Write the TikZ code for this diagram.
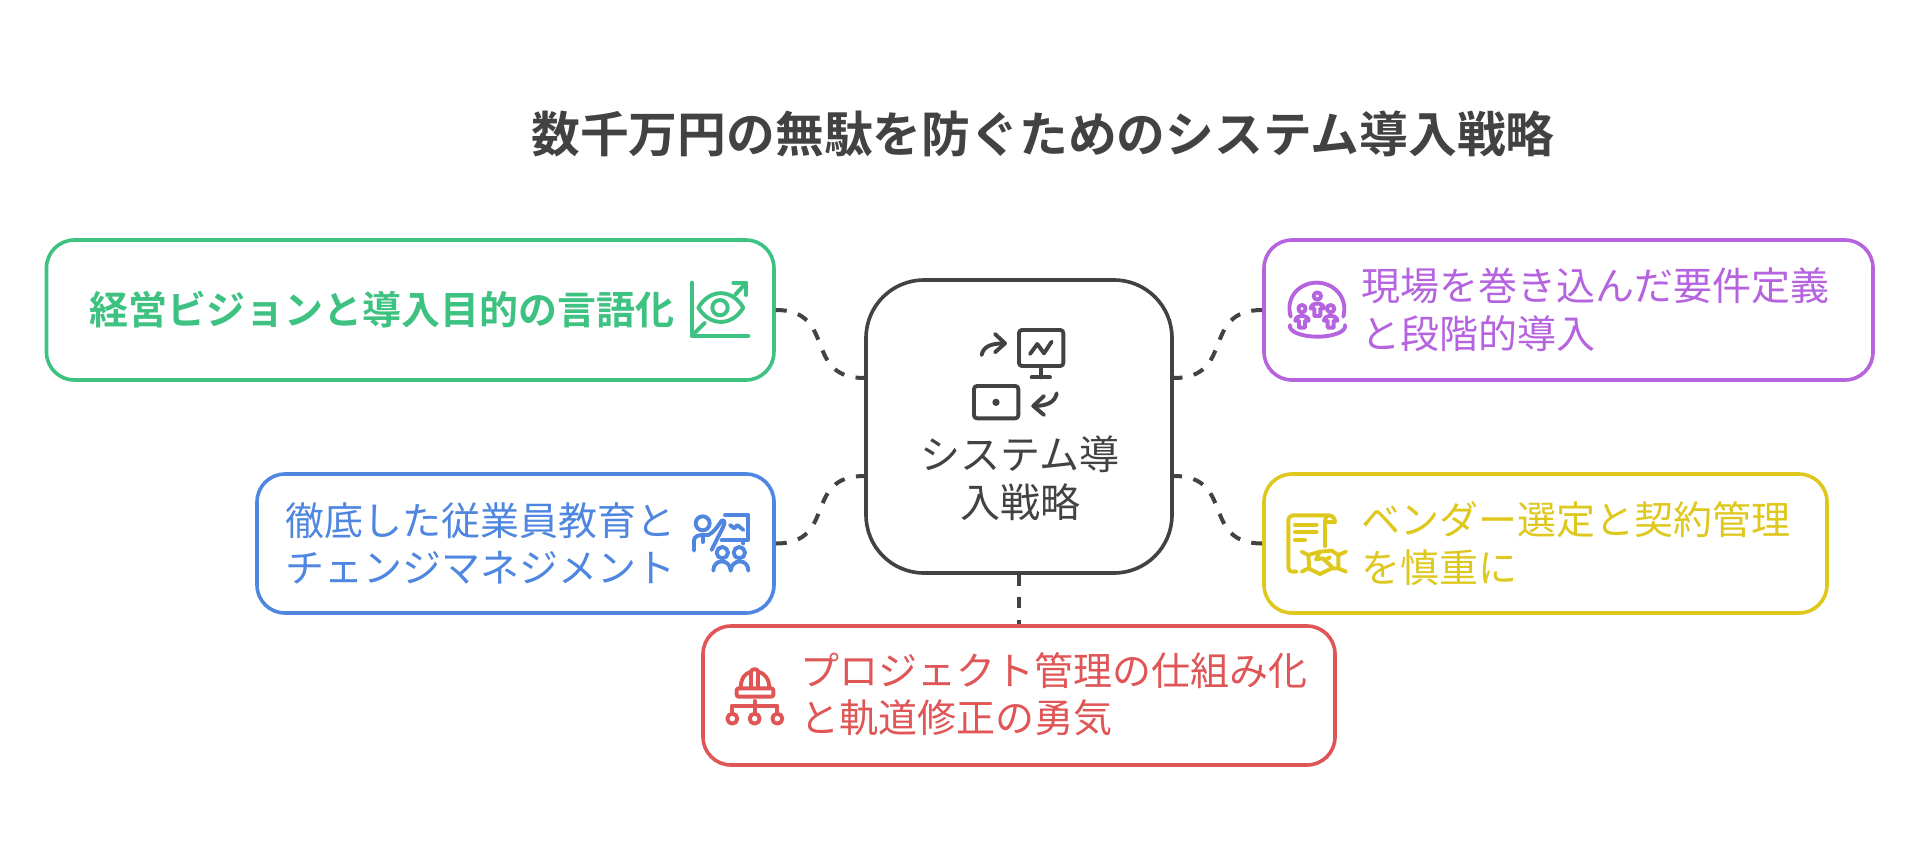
\documentclass[tikz,border=0pt]{standalone}
\usepackage{fontspec}
\setmainfont{Noto Sans CJK JP}
\newfontfamily\jpbold{Noto Sans CJK JP Bold}
\usetikzlibrary{calc}
\definecolor{cdark}{HTML}{424242}
\definecolor{cgreen}{HTML}{3DC281}
\definecolor{cblue}{HTML}{4E86E0}
\definecolor{cred}{HTML}{E05555}
\definecolor{cyellow}{HTML}{DFC81E}
\definecolor{cpurple}{HTML}{B563DF}
\tikzset{
  card/.style={draw=#1,line width=3.6pt,rounded corners=28pt,fill=white,inner sep=0pt},
  lbl/.style={anchor=west,inner sep=0pt,text=#1,font=\fontsize{39}{47.5}\selectfont,align=left},
  link/.style={draw=cdark,line width=4pt,dash pattern=on 11pt off 11.6pt},
  ico/.style={line width=3.9pt,line cap=round,line join=round,draw=#1},
  unit/.style={x=0.3333pt,y=-0.3333pt}
}
\begin{document}
\begin{tikzpicture}[x=1pt,y=-1pt]
\useasboundingbox (0,0) rectangle (1920,860);
\fill[white] (0,0) rectangle (1920,860);
\node[inner sep=0pt,text=cdark,font=\jpbold\fontsize{48.8}{52}\selectfont] (title) at (1043,134) {数千万円の無駄を防ぐためのシステム導入戦略};
% cards
\node[card=cdark,rounded corners=58pt,minimum width=306pt,minimum height=293pt] (center) at (1019,426.5) {};
\node[card=cgreen,minimum width=727.5pt,minimum height=140pt] (green) at (410.2,310) {};
\node[card=cblue,minimum width=517pt,minimum height=139pt] (blue) at (515.5,543.5) {};
\node[card=cred,minimum width=632pt,minimum height=139pt] (red) at (1019,695.5) {};
\node[card=cyellow,minimum width=563pt,minimum height=139pt] (yellow) at (1545.5,543.5) {};
\node[card=cpurple,minimum width=609pt,minimum height=140pt] (purple) at (1568.5,310) {};
% connector ends
\coordinate (cNW) at ($(center.west)+(0,-48.5)$);
\coordinate (cSW) at ($(center.west)+(0,49.5)$);
\coordinate (cNE) at ($(center.east)+(0,-48.5)$);
\coordinate (cSE) at ($(center.east)+(0,49.5)$);
\draw[link] (green.east) .. controls ($(green.east)+(62,0)$) and ($(cNW)+(-62,0)$) .. (cNW);
\draw[link] (blue.east) .. controls ($(blue.east)+(62,0)$) and ($(cSW)+(-62,0)$) .. (cSW);
\draw[link] (purple.west) .. controls ($(purple.west)+(-62,0)$) and ($(cNE)+(62,0)$) .. (cNE);
\draw[link] (yellow.west) .. controls ($(yellow.west)+(-62,0)$) and ($(cSE)+(62,0)$) .. (cSE);
\draw[link] (center.south) -- (red.north);
% labels
\node[lbl=cgreen,font=\jpbold\fontsize{39}{47.5}\selectfont] (tgreen) at (89.5,310) {経営ビジョンと導入目的の言語化};
\node[lbl=cblue] (tblue) at (285,543.5) {徹底した従業員教育と\\チェンジマネジメント};
\node[lbl=cred] (tred) at (800,694) {プロジェクト管理の仕組み化\\と軌道修正の勇気};
\node[lbl=cyellow] (tyellow) at (1361,543.5) {ベンダー選定と契約管理\\を慎重に};
\node[lbl=cpurple] (tpurple) at (1361,309.5) {現場を巻き込んだ要件定義\\と段階的導入};
\node[lbl=cdark,anchor=center,align=center,font=\fontsize{40}{47.5}\selectfont] (tcenter) at (1020,478.5) {システム導\\入戦略};
% centre icon
\begin{scope}[shift={(950,320)},unit]
\draw[ico=cdark,rounded corners=3pt] (207,30) rectangle (340,138);
\draw[ico=cdark] (272,138) -- (272,172) (245,172) -- (300,172);
\draw[ico=cdark] (240,102) -- (262,72) -- (282,100) -- (305,65);
\draw[ico=cdark] (95,105) .. controls (100,78) and (125,70) .. (165,70);
\draw[ico=cdark] (135,42) -- (165,70) -- (135,97);
\draw[ico=cdark,rounded corners=3pt] (72,198) rectangle (205,295);
\fill[cdark] (138,247) circle [radius=11];
\draw[ico=cdark] (320,220) .. controls (315,245) and (295,258) .. (250,258);
\draw[ico=cdark] (282,228) -- (250,258) -- (282,285);
\end{scope}
% green icon
\begin{scope}[shift={(680,260)},unit]
\draw[ico=cgreen] (35,68) -- (35,228) -- (205,228);
\draw[ico=cgreen] (35,228) -- (75,188);
\draw[ico=cgreen] (55,143) .. controls (90,85) and (155,85) .. (190,143) .. controls (155,200) and (90,200) .. (55,143) -- cycle;
\draw[ico=cgreen] (120,143) circle [radius=23];
\draw[ico=cgreen] (165,105) -- (197,70);
\draw[ico=cgreen] (160,68) -- (197,68) -- (197,105);
\end{scope}
% blue icon
\begin{scope}[shift={(680,500)},unit]
\draw[ico=cblue] (68,70) circle [radius=21];
\draw[ico=cblue] (42,152) -- (42,125) .. controls (42,105) and (55,105) .. (85,105) .. controls (105,95) and (115,75) .. (125,62) .. controls (135,58) and (135,70) .. (130,80) -- (95,150);
\draw[ico=cblue] (68,110) -- (68,126);
\draw[ico=cblue] (135,45) -- (205,45) -- (205,120) -- (125,120);
\draw[ico=cblue] (150,75) -- (163,85) -- (172,75) -- (190,90);
\draw[ico=cblue] (190,120) -- (190,130);
\draw[ico=cblue] (127,158) circle [radius=17];
\draw[ico=cblue] (178,158) circle [radius=17];
\draw[ico=cblue] (100,212) .. controls (100,175) and (150,175) .. (152,212) .. controls (155,175) and (205,175) .. (205,212);
\end{scope}
% red icon
\begin{scope}[shift={(720,655)},unit]
\draw[ico=cred,rounded corners=2pt] (50,100) rectangle (160,125);
\draw[ico=cred] (62,100) .. controls (62,70) and (75,55) .. (93,50) .. controls (95,40) and (113,40) .. (115,50) .. controls (133,55) and (148,70) .. (148,100);
\draw[ico=cred] (93,50) -- (93,100) (115,50) -- (115,100);
\draw[ico=cred] (37,175) -- (37,152) -- (172,152) -- (172,175);
\draw[ico=cred] (104,138) -- (104,175);
\draw[ico=cred] (37,191) circle [radius=15];
\draw[ico=cred] (104,191) circle [radius=15];
\draw[ico=cred] (172,191) circle [radius=15];
\end{scope}
% yellow icon
\begin{scope}[shift={(1270,500)},unit]
\draw[ico=cyellow] (80,215) -- (70,215) .. controls (58,215) and (55,208) .. (55,200) -- (55,62) .. controls (55,52) and (62,46) .. (72,46) -- (175,46) .. controls (188,46) and (195,55) .. (195,66) -- (165,66) -- (165,140);
\draw[ico=cyellow] (165,66) .. controls (165,55) and (170,46) .. (175,46);
\draw[ico=cyellow] (75,75) -- (140,75) (75,97) -- (140,97) (75,120) -- (105,120);
\draw[ico=cyellow] (95,155) -- (115,165) -- (150,155) -- (185,152) -- (205,165) -- (228,155);
\draw[ico=cyellow] (95,215) -- (115,205) -- (150,222) -- (185,205) -- (205,205) -- (228,215);
\draw[ico=cyellow] (115,165) -- (118,205) (205,165) -- (205,205);
\draw[ico=cyellow] (150,155) -- (138,178) -- (158,175) -- (185,200);
\draw[ico=cyellow] (168,178) -- (180,172);
\end{scope}
% purple icon
\begin{scope}[shift={(1260,260)},unit]
\draw[ico=cpurple] (92,170) .. controls (75,110) and (120,68) .. (170,68) .. controls (220,68) and (265,110) .. (250,170);
\draw[ico=cpurple] (90,195) .. controls (85,215) and (125,230) .. (172,230) .. controls (220,230) and (260,215) .. (255,195);
\draw[ico=cpurple] (172,108) circle [radius=11];
\draw[ico=cpurple] (126,146) circle [radius=11];
\draw[ico=cpurple] (212,146) circle [radius=11];
\draw[ico=cpurple] (163,168) -- (163,145) -- (152,145) .. controls (152,126) and (192,126) .. (192,145) -- (181,145) -- (181,168) -- cycle;
\draw[ico=cpurple] (117,203) -- (117,182) -- (106,182) .. controls (106,163) and (146,163) .. (146,182) -- (135,182) -- (135,203) -- cycle;
\draw[ico=cpurple] (203,203) -- (203,182) -- (192,182) .. controls (192,163) and (232,163) .. (232,182) -- (221,182) -- (221,203) -- cycle;
\end{scope}
\end{tikzpicture}
\end{document}
